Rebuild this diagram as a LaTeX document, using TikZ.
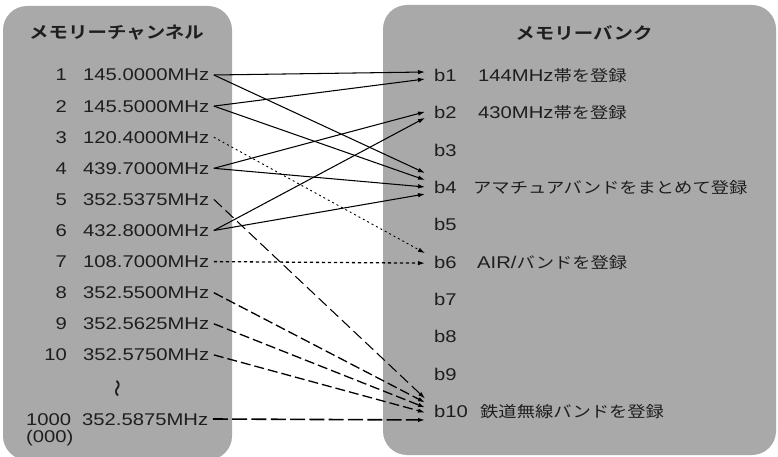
\documentclass[tikz,border=0pt]{standalone}
\usepackage{fontspec}
\setmainfont{Liberation Sans}[FakeStretch=1.19]
\newfontfamily\jpfont{Noto Sans CJK JP}[FakeStretch=1.18]
\newfontfamily\jpboldfont{Noto Sans CJK JP Bold}[FakeStretch=1.18]
\usetikzlibrary{arrows.meta, positioning, calc}
\definecolor{panelgray}{RGB}{169,169,169}
\definecolor{inkgray}{RGB}{30,30,30}
\newcommand{\jp}[1]{{\jpfont\fontsize{15.5}{18}\selectfont #1}}
\tikzset{
  panel_box/.style={draw=none, fill=panelgray, rounded corners=24pt},
  title_text/.style={font=\jpboldfont\fontsize{16.5}{19}\selectfont, text=inkgray, inner sep=0pt},
  row_text/.style={font=\fontsize{17}{20}\selectfont, text=inkgray, inner sep=0pt, text height=12pt, text depth=0pt},
  num_text/.style={row_text, anchor=east},
  freq_text/.style={row_text, anchor=west, inner xsep=4.5pt},
  bank_text/.style={row_text, anchor=west},
  link_solid/.style={-{Latex[length=7pt,width=4.5pt]}, line width=1.05pt, black},
  link_dotted/.style={link_solid, line width=0.9pt, dash pattern=on 2pt off 3pt},
  link_dotbold/.style={link_solid, line width=1.3pt, dash pattern=on 3.3pt off 2.7pt},
  link_dashthin/.style={link_solid, dash pattern=on 11pt off 5pt},
  link_dash/.style={link_solid, line width=1.3pt, dash pattern=on 10pt off 4pt},
  link_dashbold/.style={link_solid, line width=1.6pt, dash pattern=on 15pt off 4.3pt}
}

\begin{document}
\begin{tikzpicture}[x=1pt, y=-1pt]
  \useasboundingbox (0,0) rectangle (778,457);

  % --- panels ---
  \path[panel_box] (3,6) rectangle (232,460);
  \path[panel_box] (383,5) rectangle (776,455);

  \node[title_text] (chtitle) at (116.5,33) {メモリーチャンネル};
  \node[title_text] (bktitle) at (584,33) {メモリーバンク};

  % --- memory channels (left) ---
  \foreach \i/\f in {1/145.0000, 2/145.5000, 3/120.4000, 4/439.7000, 5/352.5375,
                     6/432.8000, 7/108.7000, 8/352.5500, 9/352.5625, 10/352.5750} {
    \node[num_text] (n\i) at (67,{75+31.1*(\i-1)}) {\i};
    \node[freq_text] (f\i) at (78.5,{75+31.1*(\i-1)}) {\f MHz};
  }
  \node[font=\jpboldfont\fontsize{15}{17}\selectfont, text=inkgray, rotate=90, inner sep=0pt] (gap) at (119,389) {〜};
  \node[row_text, anchor=west] (n1000) at (26,419) {1000};
  \node[row_text, anchor=west] (n000) at (26,436) {(000)};
  \node[freq_text] (f1000) at (77.5,419) {352.5875MHz};

  % --- memory banks (right) ---
  \foreach \i in {1,...,10} {
    \node[bank_text] (b\i) at (434,{75.5+37.33*(\i-1)}) {b\i};
  }
  \node[bank_text] (d1) at (478,75.5) {144MHz\jp{帯を登録}};
  \node[bank_text] (d2) at (478,112.8) {430MHz\jp{帯を登録}};
  \node[bank_text] (d4) at (473,187.5) {\jp{アマチュアバンドをまとめて登録}};
  \node[bank_text] (d6) at (477,262.2) {AIR/\jp{バンドを登録}};
  \node[bank_text] (d10) at (480,411.5) {\jp{鉄道無線バンドを登録}};

  % --- links ---
  \draw[link_solid] (f1.east) -- ($(b1.west)+(-9,-3.5)$);
  \draw[link_solid] (f2.east) -- ($(b1.west)+(-9,3.5)$);
  \draw[link_solid] (f4.east) -- ($(b2.west)+(-9,-1)$);
  \draw[link_solid] (f6.east) -- ($(b2.west)+(-9,5)$);
  \draw[link_solid] (f1.east) -- ($(b4.west)+(-9,-14.5)$);
  \draw[link_solid] (f2.east) -- ($(b4.west)+(-9,-7.5)$);
  \draw[link_solid] (f4.east) -- ($(b4.west)+(-9,-0.5)$);
  \draw[link_solid] (f6.east) -- ($(b4.west)+(-9,6.5)$);
  \draw[link_dotted] (f3.east) -- ($(b6.west)+(-9,-9)$);
  \draw[link_dotbold] (f7.east) -- ($(b6.west)+(-9,1)$);
  \draw[link_dashthin] (f5.east) -- ($(b10.west)+(-9,-13)$);
  \draw[link_dash] (f8.east) -- ($(b10.west)+(-9,-9)$);
  \draw[link_dash] (f9.east) -- ($(b10.west)+(-9,-4)$);
  \draw[link_dash] (f10.east) -- ($(b10.west)+(-9,1)$);
  \draw[link_dashbold] (f1000.east) -- ($(b10.west)+(-9,8.5)$);
\end{tikzpicture}
\end{document}
